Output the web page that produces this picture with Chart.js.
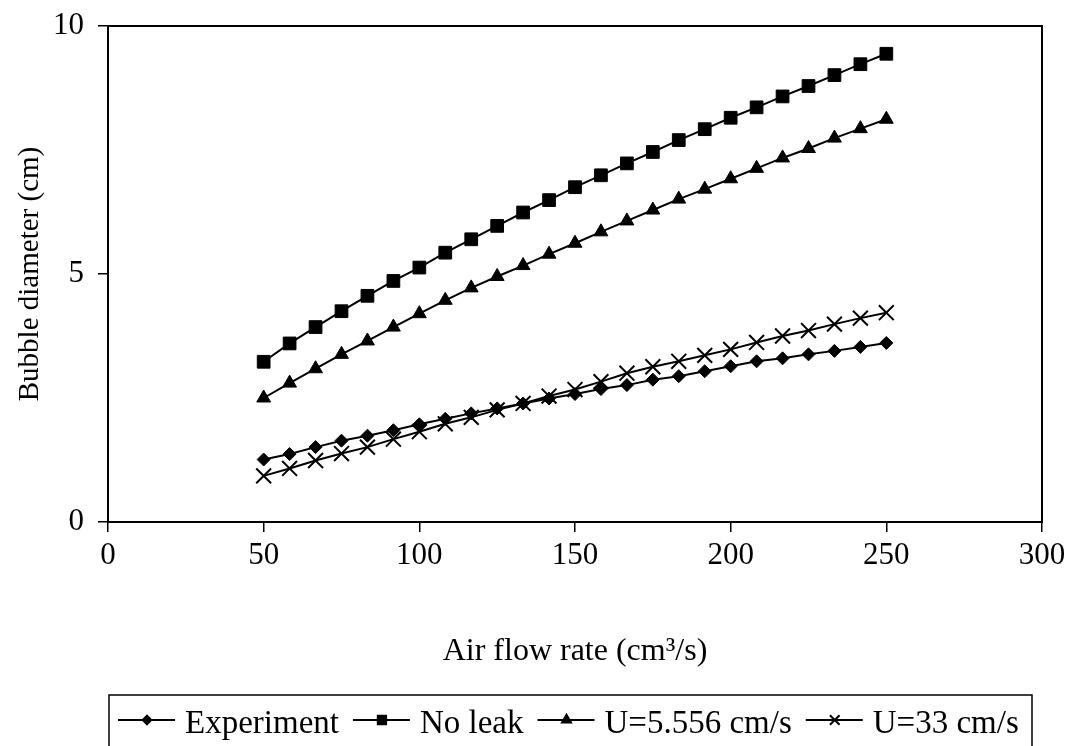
<!DOCTYPE html>
<html>
<head>
<meta charset="utf-8">
<script src="https://cdn.jsdelivr.net/npm/chart.js@4.4.1/dist/chart.umd.min.js"></script>
<style>
    html, body { margin: 0; padding: 0; background: #fff; }
    #wadah { width: 1078px; height: 746px; }
</style>
</head>
<body>
<div id="wadah"><canvas id="grafikGelembung" width="1078" height="746"></canvas></div>
<script>
// laju aliran udara (cm3/s)
const lajuAliran = [50, 58.33, 66.67, 75, 83.33, 91.67, 100, 108.33, 116.67, 125, 133.33, 141.67, 150,
    158.33, 166.67, 175, 183.33, 191.67, 200, 208.33, 216.67, 225, 233.33, 241.67, 250];

// diameter gelembung (cm) tiap seri
const eksperimen = [1.26, 1.37, 1.51, 1.64, 1.74, 1.85, 1.97, 2.08, 2.19, 2.29, 2.39, 2.49, 2.58,
    2.68, 2.76, 2.87, 2.94, 3.04, 3.14, 3.24, 3.30, 3.38, 3.45, 3.53, 3.61];
const tanpaBocor = [3.23, 3.60, 3.93, 4.25, 4.56, 4.86, 5.13, 5.43, 5.70, 5.97, 6.24, 6.49, 6.75,
    6.99, 7.23, 7.46, 7.70, 7.92, 8.15, 8.36, 8.58, 8.79, 9.01, 9.23, 9.44];
const kecepatan5556 = [2.50, 2.80, 3.09, 3.38, 3.65, 3.93, 4.20, 4.47, 4.72, 4.95, 5.17, 5.40, 5.62,
    5.85, 6.07, 6.29, 6.51, 6.71, 6.92, 7.13, 7.34, 7.53, 7.74, 7.93, 8.12];
const kecepatan33 = [0.93, 1.08, 1.24, 1.38, 1.51, 1.67, 1.82, 1.98, 2.11, 2.26, 2.39, 2.54, 2.67,
    2.83, 3.00, 3.13, 3.24, 3.36, 3.48, 3.62, 3.75, 3.86, 3.99, 4.11, 4.22];

const tickX = [0, 50, 100, 150, 200, 250, 300];
const tickY = [0, 5, 10];

const hurufSerif = 'Liberation Serif, Times New Roman, serif';

function pasangan(nilai) {
    return lajuAliran.map(function (x, i) {
        return { x: x, y: nilai[i] };
    });
}

function seri(label, nilai, gaya, radius) {
    return {
        label: label,
        data: pasangan(nilai),
        borderColor: '#000',
        backgroundColor: '#000',
        borderWidth: 2,
        pointStyle: gaya,
        pointRadius: radius,
        pointBorderWidth: gaya === 'crossRot' ? 2 : 1,
        pointBorderColor: '#000',
        pointBackgroundColor: '#000',
        tension: 0
    };
}

// bingkai area plot + legenda berkotak di bawah
const bingkaiLegenda = {
    id: 'bingkaiLegenda',
    afterDraw: function (chart) {
        let ctx = chart.ctx;
        let a = chart.chartArea;
        ctx.save();
        ctx.strokeStyle = '#000';
        ctx.lineWidth = 2;
        ctx.strokeRect(a.left, a.top, a.right - a.left, a.bottom - a.top);

        // kotak legenda
        ctx.lineWidth = 1.5;
        ctx.strokeRect(109, 695, 923, 60);

        ctx.font = '33px ' + hurufSerif;
        ctx.textBaseline = 'alphabetic';
        ctx.fillStyle = '#000';
        let x = 118;
        let y = 720;
        chart.data.datasets.forEach(function (ds) {
            ctx.strokeStyle = '#000';
            ctx.lineWidth = 2;
            ctx.beginPath();
            ctx.moveTo(x, y);
            ctx.lineTo(x + 57, y);
            ctx.stroke();
            Chart.helpers.drawPoint(ctx, {
                pointStyle: ds.pointStyle,
                radius: ds.pointRadius * 0.65,
                rotation: 0,
                borderWidth: ds.pointBorderWidth
            }, x + 29, y);
            ctx.fillText(ds.label, x + 67, 733);
            x += 67 + ctx.measureText(ds.label).width + 14;
        });
        ctx.restore();
    }
};

new Chart(document.getElementById('grafikGelembung'), {
    type: 'line',
    data: {
        datasets: [
            seri('Experiment', eksperimen, 'rectRot', 6.5),
            seri('No leak', tanpaBocor, 'rect', 9),
            seri('U=5.556 cm/s', kecepatan5556, 'triangle', 8),
            seri('U=33 cm/s', kecepatan33, 'crossRot', 10.5)
        ]
    },
    options: {
        responsive: false,
        animation: false,
        devicePixelRatio: 1,
        layout: {
            padding: { left: 0, top: 26, right: 36, bottom: 74 }
        },
        plugins: {
            legend: { display: false },
            tooltip: { enabled: false }
        },
        scales: {
            x: {
                type: 'linear',
                min: 0,
                max: 300,
                afterBuildTicks: function (scale) {
                    scale.ticks = tickX.map(function (v) { return { value: v }; });
                },
                afterFit: function (scale) {
                    scale.height = 150;
                    scale.paddingLeft = 0;
                    scale.paddingRight = 0;
                },
                border: { color: '#000', width: 2 },
                grid: { drawOnChartArea: false, drawTicks: true, tickLength: 10, color: '#000', lineWidth: 1.5 },
                ticks: {
                    color: '#000',
                    padding: 5,
                    maxRotation: 0,
                    font: { family: hurufSerif, size: 31 }
                },
                title: {
                    display: true,
                    text: 'Air flow rate (cm³/s)',
                    color: '#000',
                    font: { family: hurufSerif, size: 32 },
                    padding: { top: 0, bottom: 1 }
                }
            },
            y: {
                min: 0,
                max: 10,
                afterBuildTicks: function (scale) {
                    scale.ticks = tickY.map(function (v) { return { value: v }; });
                },
                afterFit: function (scale) {
                    scale.width = 108;
                    scale.paddingTop = 0;
                    scale.paddingBottom = 0;
                },
                border: { color: '#000', width: 2 },
                grid: { drawOnChartArea: false, drawTicks: true, tickLength: 10, color: '#000', lineWidth: 1.5 },
                ticks: {
                    color: '#000',
                    padding: 14,
                    font: { family: hurufSerif, size: 31 }
                },
                title: {
                    display: true,
                    text: 'Bubble diameter (cm)',
                    color: '#000',
                    font: { family: hurufSerif, size: 29 },
                    padding: { top: 13, bottom: 0 }
                }
            }
        }
    },
    plugins: [bingkaiLegenda]
});
</script>
</body>
</html>
